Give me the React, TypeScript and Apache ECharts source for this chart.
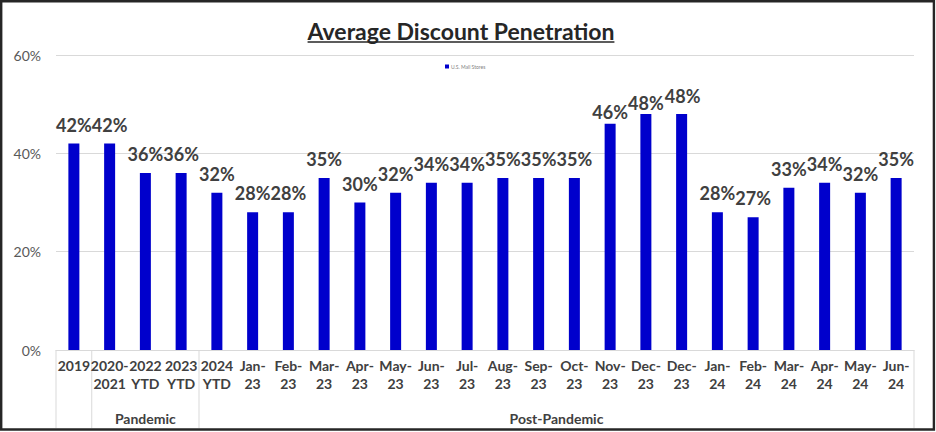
import React, { useEffect, useRef } from "react";
import * as echarts from "echarts";

const titleText = "Average Discount Penetration";
const seriesName = "U.S. Mall Stores";
const categories = [
  "2019", "2020-\n2021", "2022\nYTD", "2023\nYTD", "2024\nYTD",
  "Jan-\n23", "Feb-\n23", "Mar-\n23", "Apr-\n23", "May-\n23", "Jun-\n23",
  "Jul-\n23", "Aug-\n23", "Sep-\n23", "Oct-\n23", "Nov-\n23", "Dec-\n23", "Dec-\n23",
  "Jan-\n24", "Feb-\n24", "Mar-\n24", "Apr-\n24", "May-\n24", "Jun-\n24",
];
const values = [42, 42, 36, 36, 32, 28, 28, 35, 30, 32, 34, 34, 35, 35, 35, 46, 48, 48, 28, 27, 33, 34, 32, 35];
const groupNames = ["", "Pandemic", "Post-Pandemic"];
const groupStarts = [0, 1, 4];
const groupEnds = [1, 4, 24];
const yMin = 0;
const yMax = 60;
const yStep = 20;

const FONT = "Lato, 'Open Sans', sans-serif";
const TEXT = "#404040";
const GRIDC = "#d9d9d9";
const BAR = "#0000CC";

// label nudges reproducing the reference's label placement
const labelNudge: Record<number, number[]> = { 15: [0, 7], 16: [0, 8], 17: [1, 1] };

function measure(text: string, font: string): number {
  const c = document.createElement("canvas").getContext("2d");
  if (!c) return text.length * 11;
  c.font = font;
  return c.measureText(text).width;
}

export default function App() {
  const ref = useRef<HTMLDivElement>(null);
  useEffect(() => {
    if (!ref.current) return;
    const chart = echarts.init(ref.current, undefined, { renderer: "svg" });
    const option: any = {
      animation: false,
      backgroundColor: "#ffffff",
      textStyle: { fontFamily: FONT },
      legend: {
        data: [seriesName],
        top: 59,
        left: 440,
        icon: "rect",
        itemWidth: 4,
        itemHeight: 4,
        itemGap: 2,
        textStyle: { fontSize: 5, color: "#7f7f7f", fontFamily: FONT, padding: [0, 0, 0, -3] },
      },
      grid: { left: 56, right: 22, top: 55, bottom: 82, containLabel: false },
      xAxis: {
        type: "category",
        data: categories,
        axisLine: { lineStyle: { color: GRIDC } },
        axisTick: { show: false },
        axisLabel: {
          interval: 0,
          color: TEXT,
          fontWeight: "bold",
          fontSize: 14,
          lineHeight: 18,
          margin: 6,
          fontFamily: FONT,
        },
      },
      yAxis: {
        type: "value",
        min: yMin,
        max: yMax,
        interval: yStep,
        axisLine: { show: false },
        axisTick: { show: false },
        axisLabel: { formatter: "{value}%", color: "#595959", fontSize: 14, margin: 15, fontFamily: FONT },
        splitLine: { lineStyle: { color: GRIDC } },
      },
      series: [
        {
          type: "bar",
          name: seriesName,
          data: values.map((v, i) =>
            labelNudge[i] ? { value: v, label: { offset: labelNudge[i] } } : v
          ),
          barWidth: 11,
          itemStyle: { color: BAR },
          label: {
            show: true,
            position: "top",
            distance: 10,
            formatter: "{c}%",
            fontSize: 18,
            fontWeight: "bold",
            color: TEXT,
            fontFamily: FONT,
          },
        },
      ],
    };
    chart.setOption(option);

    const c0 = chart.convertToPixel({ xAxisIndex: 0 }, 0) as number;
    const c1 = chart.convertToPixel({ xAxisIndex: 0 }, 1) as number;
    const band = c1 - c0;
    const bx = (k: number) => c0 - band / 2 + k * band;
    const y0 = chart.convertToPixel({ yAxisIndex: 0 }, 0) as number;

    const titleFont = "bold 23px Lato";
    const tw = measure(titleText, titleFont);
    const tcx = 461;
    const graphics: any[] = [
      {
        type: "text",
        x: tcx,
        y: 31,
        style: {
          text: titleText,
          x: 0,
          y: 0,
          align: "center",
          verticalAlign: "middle",
          font: titleFont,
          fill: "#262626",
        },
      },
      {
        type: "line",
        shape: { x1: tcx - tw / 2, y1: 42, x2: tcx + tw / 2, y2: 42 },
        style: { stroke: "#262626", lineWidth: 1.6 },
      },
    ];
    const bounds = new Set<number>();
    groupStarts.forEach((s, i) => {
      bounds.add(s);
      bounds.add(groupEnds[i]);
    });
    bounds.forEach((k) => {
      graphics.push({
        type: "line",
        shape: { x1: bx(k), y1: y0, x2: bx(k), y2: 428 },
        style: { stroke: GRIDC, lineWidth: 1 },
      });
    });
    groupNames.forEach((g, i) => {
      if (!g) return;
      graphics.push({
        type: "text",
        x: (bx(groupStarts[i]) + bx(groupEnds[i])) / 2,
        y: 418,
        style: {
          text: g,
          align: "center",
          verticalAlign: "middle",
          font: "bold 14px Lato",
          fill: TEXT,
        },
      });
    });
    graphics.push({
      type: "rect",
      shape: { x: 1.2, y: 1.2, width: 932.7, height: 428.3 },
      style: { fill: "none", stroke: "#262626", lineWidth: 2.4 },
      z: 100,
    });
    chart.setOption({ graphic: graphics });

    return () => chart.dispose();
  }, []);
  return (
    <div
      ref={ref}
      style={{ position: "fixed", left: 0, top: 0, width: 936, height: 432 }}
    />
  );
}
